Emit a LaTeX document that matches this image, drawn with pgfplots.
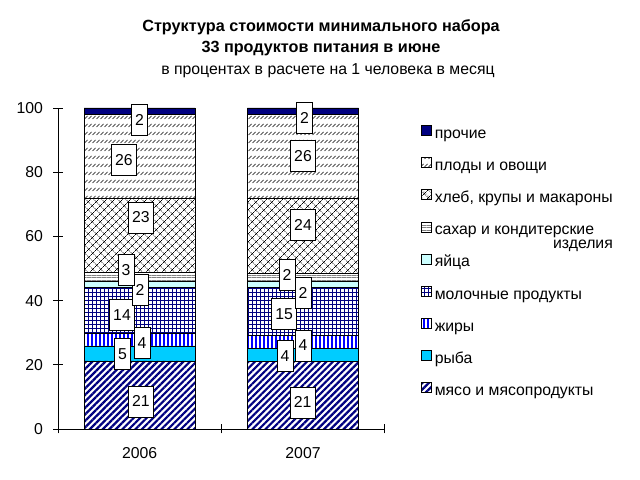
\documentclass[border=0pt]{standalone}
\usepackage{fontspec}
\setmainfont{Liberation Sans}
\usepackage{pgfplots}
\pgfplotsset{compat=1.18}
\usepackage{pgfplotstable}
\usetikzlibrary{patterns,patterns.meta}

\definecolor{navy}{RGB}{0,0,128}
\definecolor{xblue}{RGB}{0,0,255}
\definecolor{xcyan}{RGB}{0,204,255}
\definecolor{xlcyan}{RGB}{204,255,255}
\definecolor{xgray}{RGB}{128,128,128}

\pgfdeclarepatternformonly{fruitdash}{\pgfpoint{-0.5bp}{-0.5bp}}{\pgfpoint{4.5bp}{8.5bp}}{\pgfpoint{4bp}{8bp}}{%
  \pgfsetlinewidth{0.7bp}%
  \pgfpathmoveto{\pgfpoint{0.5bp}{1bp}}%
  \pgfpathlineto{\pgfpoint{3.5bp}{4bp}}%
  \pgfusepath{stroke}}

\pgfplotsset{sqlegend/.style={legend image code/.code={\draw[##1] (0bp,-1bp) rectangle (10bp,9bp);}}}

\newcommand\ff{\fontsize{15.8bp}{18bp}\selectfont}

\pgfplotstableread{
x meat fish fats dairy eggs sugar bread fruits other
0.5 21.2 4.7 3.9 14.3 1.8 3.0 23.0 26.2 1.9
1.5 21.0 4.2 4.0 15.0 1.8 2.4 23.5 26.2 1.9
}\datatable

\pgfplotstableread{
x y lab
0.508 8.6 21
0.395 23.4 5
0.514 26.9 4
0.392 35.5 14
0.502 43.3 2
0.416 49.5 3
0.508 65.9 23
0.404 83.8 26
0.499 96.3 2
1.497 8.3 21
1.390 22.7 4
1.500 26.0 4
1.384 35.8 15
1.500 42.4 2
1.402 48.0 2
1.500 63.6 24
1.500 85.0 26
1.509 96.9 2
}\labtable

\begin{document}
\begin{tikzpicture}
\useasboundingbox (0,0) rectangle (640bp,480bp);
\begin{axis}[
  at={(58bp,51bp)}, anchor=south west,
  scale only axis, width=326.7bp, height=321bp,
  xmin=0, xmax=2, ymin=0, ymax=100,
  ybar stacked, bar width=0.68,
  axis x line*=bottom, axis y line*=left,
  axis line style={line width=0.8bp, -},
  xtick={0,1,2}, xticklabels={},
  extra x ticks={0.5,1.5}, extra x tick labels={2006,2007},
  extra x tick style={major tick length=0pt, xticklabel style={yshift=-15bp}},
  ytick={0,20,...,100},
  tick align=center, major tick length=9bp,
  tick style={black, line width=0.8bp},
  ticklabel style={font=\ff},
  yticklabel style={xshift=-7bp},
  /pgf/number format/assume math mode=true,
  legend cell align=left,
  reverse legend,
  legend style={at={(1.111,0.949)}, anchor=north west, draw=none, fill=none,
    inner sep=0pt, font=\ff, row sep=12.1bp,
    nodes={inner sep=2bp, text height=12bp, text depth=4bp},
    /tikz/every odd column/.append style={column sep=1bp}},
]
\addplot[draw=black, line width=0.6bp, pattern={Lines[angle=45,distance=4.6bp,line width=2.2bp]}, pattern color=navy,
  sqlegend] table[x=x,y=meat] {\datatable};
\addlegendentry{мясо и мясопродукты}
\addplot[draw=black, line width=0.6bp, fill=xcyan, sqlegend] table[x=x,y=fish] {\datatable};
\addlegendentry{рыба}
\addplot[draw=black, line width=0.6bp, pattern={Lines[angle=90,distance=4bp,line width=2bp]}, pattern color=xblue,
  sqlegend] table[x=x,y=fats] {\datatable};
\addlegendentry{жиры}
\addplot[draw=black, line width=0.6bp, pattern={Hatch[angle=0,distance=4bp,line width=0.9bp]}, pattern color=navy,
  sqlegend] table[x=x,y=dairy] {\datatable};
\addlegendentry{молочные продукты}
\addplot[draw=black, line width=0.6bp, fill=xlcyan, sqlegend] table[x=x,y=eggs] {\datatable};
\addlegendentry{яйца}
\addplot[draw=black, line width=0.6bp, pattern={Lines[angle=0,distance=2.5bp,line width=0.9bp]}, pattern color=xgray,
  sqlegend] table[x=x,y=sugar] {\datatable};
\addlegendentry{сахар и кондитерские\rlap{\hspace{-41bp}\smash{\raisebox{-14bp}{изделия}}}}
\addplot[draw=black, line width=0.6bp, pattern={Hatch[angle=45,distance=6bp,line width=0.6bp]}, pattern color=black,
  sqlegend] table[x=x,y=bread] {\datatable};
\addlegendentry{хлеб, крупы и макароны}
\addplot[draw=black, line width=0.6bp, pattern=fruitdash, pattern color=black, sqlegend] table[x=x,y=fruits] {\datatable};
\addlegendentry{плоды и овощи}
\addplot[draw=black, line width=0.6bp, fill=navy, sqlegend] table[x=x,y=other] {\datatable};
\addlegendentry{прочие}
\end{axis}
\begin{axis}[
  at={(58bp,51bp)}, anchor=south west,
  scale only axis, width=326.7bp, height=321bp,
  xmin=0, xmax=2, ymin=0, ymax=100,
  hide axis, clip=false,
  every node near coord/.append style={anchor=center, draw=black, fill=white, line width=0.6bp,
    inner xsep=3.5bp, inner ysep=0pt, minimum height=31bp, font=\ff, text=black},
]
\addplot[only marks, mark=none, nodes near coords, point meta=explicit symbolic]
  table[x=x,y=y,meta=lab] {\labtable};
\end{axis}
\node[font=\bfseries\fontsize{16.2bp}{18bp}\selectfont] at (321bp,453bp) {Структура стоимости минимального набора};
\node[font=\bfseries\fontsize{16.2bp}{18bp}\selectfont] at (321bp,431bp) {33 продуктов питания в июне};
\node[font=\fontsize{15.8bp}{18bp}\selectfont] at (328bp,409bp) {в процентах в расчете на 1 человека в месяц};
\end{tikzpicture}
\end{document}
